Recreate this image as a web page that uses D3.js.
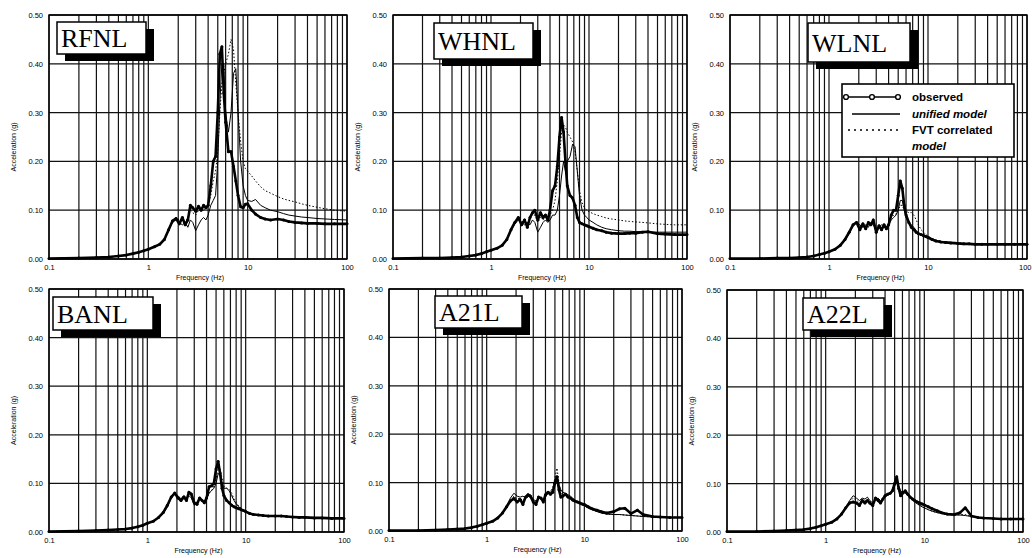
<!DOCTYPE html>
<html>
<head>
<meta charset="utf-8">
<script src="https://cdn.jsdelivr.net/npm/d3@7"></script>
<style>
  html, body { margin: 0; padding: 0; background: #fff; }
  svg { display: block; }
</style>
</head>
<body>
<svg id="chart" width="1032" height="558"></svg>
<script>
// ---------------- DATA ----------------
const freq = [0.1,0.2,0.3,0.4,0.5,0.6,0.7,0.8,0.9,1.0,
  1.15,1.3,1.45,1.6,1.75,1.9,2.05,2.2,2.35,2.5,
  2.65,2.8,3.0,3.2,3.4,3.6,3.8,4.0,4.25,4.5,
  4.75,5.0,5.25,5.5,5.75,6.0,6.4,6.8,7.2,7.6,
  8.0,8.5,9.0,9.5,10,11,12,13.5,15,17,
  20,23,26,30,35,40,50,60,75,100];

const stations = ["RFNL","WHNL","WLNL","BANL","A21L","A22L"];
const seriesNames = ["observed","unified model","FVT correlated","model"];
const xTickValues = [0.1,1,10,100];
const xTickLabels = ["0.1","1","10","100"];
const yTickValues = [0,0.1,0.2,0.3,0.4,0.5];
const yTickLabels = ["0.00","0.10","0.20","0.30","0.40","0.50"];
const xTitle = "Frequency  (Hz)";
const yTitle = "Acceleration  (g)";

const rfnlObserved = [0.001,0.002,0.003,0.004,0.006,0.008,0.011,0.014,0.017,0.020,
 0.025,0.030,0.040,0.060,0.078,0.083,0.072,0.085,0.070,0.080,
 0.110,0.105,0.098,0.108,0.100,0.110,0.105,0.110,0.150,0.200,
 0.210,0.300,0.420,0.435,0.340,0.280,0.220,0.220,0.190,0.160,
 0.130,0.107,0.105,0.112,0.113,0.100,0.092,0.085,0.082,0.080,
 0.082,0.080,0.077,0.075,0.074,0.073,0.073,0.072,0.072,0.072];
const rfnlUnified = [0.001,0.002,0.003,0.004,0.006,0.008,0.011,0.014,0.017,0.020,
 0.025,0.030,0.040,0.058,0.075,0.080,0.075,0.070,0.075,0.065,
 0.080,0.075,0.058,0.070,0.080,0.085,0.080,0.090,0.110,0.120,
 0.130,0.200,0.320,0.400,0.400,0.300,0.260,0.300,0.380,0.390,
 0.300,0.200,0.150,0.130,0.120,0.118,0.122,0.110,0.105,0.100,
 0.097,0.093,0.090,0.088,0.086,0.085,0.083,0.082,0.081,0.080];
const rfnlFvt = [0.001,0.002,0.003,0.004,0.006,0.008,0.011,0.014,0.017,0.020,
 0.025,0.030,0.040,0.060,0.078,0.085,0.080,0.085,0.075,0.085,
 0.100,0.095,0.090,0.100,0.100,0.100,0.105,0.110,0.130,0.160,
 0.180,0.220,0.300,0.360,0.380,0.400,0.420,0.450,0.430,0.360,
 0.300,0.240,0.200,0.185,0.180,0.170,0.160,0.148,0.140,0.135,
 0.128,0.123,0.120,0.117,0.113,0.110,0.106,0.103,0.100,0.098];

const whnlObserved = [0.001,0.002,0.002,0.003,0.004,0.006,0.008,0.011,0.015,0.018,
 0.022,0.028,0.040,0.060,0.075,0.085,0.070,0.080,0.065,0.085,
 0.095,0.100,0.080,0.095,0.085,0.090,0.080,0.100,0.140,0.150,
 0.190,0.250,0.290,0.260,0.200,0.150,0.130,0.125,0.110,0.085,
 0.075,0.072,0.070,0.068,0.066,0.063,0.060,0.058,0.055,0.053,
 0.052,0.052,0.053,0.053,0.055,0.056,0.052,0.051,0.050,0.050];
const whnlUnified = [0.001,0.002,0.002,0.003,0.004,0.006,0.008,0.011,0.015,0.018,
 0.022,0.028,0.040,0.058,0.072,0.080,0.075,0.070,0.075,0.070,
 0.080,0.075,0.055,0.065,0.075,0.080,0.075,0.080,0.090,0.090,
 0.100,0.130,0.170,0.200,0.180,0.200,0.210,0.235,0.230,0.180,
 0.130,0.100,0.090,0.085,0.080,0.075,0.070,0.065,0.062,0.060,
 0.058,0.057,0.057,0.056,0.056,0.055,0.055,0.055,0.055,0.055];
const whnlFvt = [0.001,0.002,0.002,0.003,0.004,0.006,0.008,0.011,0.015,0.018,
 0.022,0.028,0.040,0.060,0.075,0.085,0.075,0.080,0.070,0.085,
 0.090,0.090,0.075,0.085,0.080,0.085,0.080,0.090,0.100,0.120,
 0.160,0.210,0.260,0.275,0.270,0.260,0.250,0.240,0.220,0.180,
 0.140,0.115,0.105,0.100,0.097,0.093,0.090,0.087,0.084,0.082,
 0.080,0.078,0.077,0.076,0.075,0.074,0.072,0.071,0.070,0.070];

const wlnlObserved = [0.001,0.001,0.002,0.002,0.003,0.004,0.006,0.009,0.012,0.015,
 0.020,0.028,0.040,0.055,0.070,0.075,0.060,0.072,0.062,0.075,
 0.070,0.080,0.055,0.068,0.060,0.070,0.062,0.070,0.090,0.100,
 0.100,0.130,0.160,0.145,0.110,0.090,0.075,0.065,0.060,0.055,
 0.052,0.050,0.048,0.046,0.044,0.040,0.037,0.035,0.034,0.033,
 0.032,0.031,0.031,0.030,0.030,0.030,0.030,0.030,0.030,0.030];
const wlnlUnified = [0.001,0.001,0.002,0.002,0.003,0.004,0.006,0.009,0.012,0.015,
 0.020,0.027,0.038,0.052,0.068,0.075,0.070,0.065,0.070,0.065,
 0.075,0.070,0.060,0.065,0.070,0.068,0.065,0.070,0.080,0.085,
 0.090,0.100,0.120,0.120,0.100,0.085,0.075,0.070,0.065,0.058,
 0.052,0.050,0.048,0.046,0.044,0.041,0.038,0.036,0.034,0.033,
 0.032,0.032,0.031,0.031,0.031,0.030,0.030,0.030,0.030,0.030];
const wlnlFvt = [0.001,0.001,0.002,0.002,0.003,0.004,0.006,0.009,0.012,0.015,
 0.020,0.028,0.040,0.055,0.070,0.077,0.068,0.072,0.066,0.074,
 0.072,0.078,0.060,0.068,0.064,0.070,0.066,0.072,0.085,0.090,
 0.092,0.100,0.110,0.110,0.100,0.098,0.095,0.095,0.090,0.080,
 0.070,0.060,0.055,0.050,0.047,0.042,0.039,0.037,0.035,0.034,
 0.033,0.032,0.032,0.031,0.031,0.031,0.030,0.030,0.030,0.030];

const banlObserved = [0.001,0.002,0.003,0.004,0.005,0.006,0.008,0.011,0.014,0.018,
 0.022,0.030,0.040,0.055,0.072,0.080,0.070,0.065,0.072,0.065,
 0.082,0.078,0.060,0.057,0.070,0.065,0.060,0.070,0.093,0.095,
 0.100,0.130,0.145,0.120,0.090,0.075,0.065,0.060,0.055,0.052,
 0.050,0.048,0.046,0.044,0.042,0.038,0.036,0.035,0.034,0.033,
 0.033,0.033,0.032,0.031,0.030,0.030,0.029,0.029,0.028,0.028];
const banlUnified = [0.001,0.002,0.003,0.004,0.005,0.006,0.008,0.011,0.014,0.018,
 0.022,0.029,0.038,0.052,0.070,0.078,0.075,0.068,0.075,0.070,
 0.075,0.070,0.055,0.062,0.068,0.065,0.062,0.068,0.080,0.085,
 0.090,0.100,0.120,0.120,0.100,0.090,0.090,0.085,0.075,0.065,
 0.058,0.052,0.048,0.045,0.042,0.039,0.037,0.035,0.034,0.033,
 0.033,0.032,0.032,0.031,0.030,0.030,0.029,0.029,0.028,0.028];
const banlFvt = [0.001,0.002,0.003,0.004,0.005,0.006,0.008,0.011,0.014,0.018,
 0.022,0.030,0.040,0.055,0.072,0.080,0.072,0.068,0.072,0.068,
 0.078,0.075,0.060,0.060,0.068,0.066,0.062,0.068,0.080,0.085,
 0.095,0.110,0.130,0.130,0.110,0.095,0.090,0.088,0.080,0.068,
 0.060,0.054,0.049,0.046,0.043,0.039,0.037,0.035,0.034,0.033,
 0.033,0.032,0.032,0.031,0.030,0.030,0.029,0.029,0.028,0.028];

const a21lObserved = [0.001,0.001,0.002,0.003,0.004,0.005,0.007,0.010,0.013,0.016,
 0.020,0.027,0.037,0.050,0.062,0.067,0.060,0.065,0.055,0.070,
 0.075,0.072,0.060,0.055,0.070,0.068,0.060,0.075,0.080,0.076,
 0.080,0.100,0.112,0.085,0.070,0.072,0.076,0.070,0.068,0.064,
 0.062,0.060,0.058,0.056,0.055,0.050,0.046,0.043,0.040,0.037,
 0.040,0.046,0.047,0.036,0.043,0.034,0.030,0.029,0.028,0.028];
const a21lUnified = [0.001,0.001,0.002,0.003,0.004,0.005,0.007,0.010,0.013,0.016,
 0.020,0.027,0.037,0.052,0.068,0.078,0.072,0.070,0.072,0.068,
 0.070,0.075,0.065,0.062,0.068,0.066,0.065,0.070,0.078,0.080,
 0.085,0.095,0.100,0.095,0.085,0.080,0.078,0.075,0.072,0.068,
 0.064,0.060,0.057,0.054,0.052,0.047,0.044,0.040,0.037,0.035,
 0.034,0.034,0.033,0.032,0.031,0.030,0.029,0.028,0.028,0.028];
const a21lFvt = [0.001,0.001,0.002,0.003,0.004,0.005,0.007,0.010,0.013,0.016,
 0.020,0.027,0.037,0.050,0.064,0.072,0.066,0.068,0.062,0.070,
 0.072,0.074,0.062,0.060,0.068,0.066,0.062,0.072,0.080,0.082,
 0.090,0.110,0.130,0.100,0.080,0.076,0.075,0.072,0.070,0.066,
 0.063,0.060,0.057,0.054,0.052,0.047,0.044,0.040,0.037,0.035,
 0.034,0.034,0.033,0.032,0.031,0.030,0.029,0.028,0.028,0.028];

const a22lObserved = [0.001,0.001,0.002,0.003,0.004,0.005,0.007,0.010,0.013,0.016,
 0.020,0.027,0.037,0.050,0.060,0.062,0.060,0.055,0.065,0.060,
 0.065,0.060,0.055,0.070,0.065,0.060,0.068,0.075,0.078,0.080,
 0.085,0.100,0.114,0.090,0.075,0.080,0.085,0.078,0.072,0.068,
 0.065,0.062,0.060,0.058,0.056,0.052,0.048,0.044,0.040,0.037,
 0.036,0.040,0.050,0.033,0.030,0.029,0.028,0.027,0.027,0.027];
const a22lUnified = [0.001,0.001,0.002,0.003,0.004,0.005,0.007,0.010,0.013,0.016,
 0.020,0.027,0.037,0.052,0.065,0.075,0.070,0.065,0.070,0.068,
 0.072,0.065,0.060,0.068,0.070,0.065,0.068,0.072,0.076,0.080,
 0.085,0.095,0.105,0.095,0.085,0.082,0.080,0.075,0.070,0.066,
 0.062,0.058,0.055,0.052,0.050,0.046,0.043,0.040,0.038,0.036,
 0.035,0.035,0.034,0.032,0.030,0.029,0.028,0.027,0.027,0.027];
const a22lFvt = [0.001,0.001,0.002,0.003,0.004,0.005,0.007,0.010,0.013,0.016,
 0.020,0.027,0.037,0.050,0.062,0.070,0.066,0.060,0.068,0.064,
 0.068,0.063,0.058,0.068,0.068,0.063,0.068,0.074,0.077,0.080,
 0.088,0.100,0.110,0.095,0.082,0.082,0.082,0.076,0.070,0.066,
 0.062,0.058,0.055,0.052,0.050,0.046,0.043,0.040,0.038,0.036,
 0.035,0.036,0.036,0.032,0.030,0.029,0.028,0.027,0.027,0.027];

const observedSets = [rfnlObserved, whnlObserved, wlnlObserved, banlObserved, a21lObserved, a22lObserved];
const unifiedSets  = [rfnlUnified, whnlUnified, wlnlUnified, banlUnified, a21lUnified, a22lUnified];
const fvtSets      = [rfnlFvt, whnlFvt, wlnlFvt, banlFvt, a21lFvt, a22lFvt];

// ---------------- LAYOUT ----------------
const panels = [
  {left: 49,  top: 15,  w: 298, h: 244, box: {x: 8,  y: 7, w: 89,  h: 32}},
  {left: 393, top: 15,  w: 294, h: 244, box: {x: 41, y: 8, w: 99,  h: 36}},
  {left: 730, top: 15,  w: 297, h: 244, box: {x: 78, y: 8, w: 102, h: 39}},
  {left: 49,  top: 289, w: 295, h: 243, box: {x: 4,  y: 8, w: 100, h: 33}},
  {left: 389, top: 289, w: 293, h: 242, box: {x: 46, y: 7, w: 87,  h: 32}},
  {left: 727, top: 290, w: 296, h: 242, box: {x: 76, y: 8, w: 81,  h: 32}}
];
const svgWidth = 1032;

const svg = d3.select("#chart");
const tickFont = "'Liberation Sans', Arial, sans-serif";

panels.forEach((p, i) => {
  const x = d3.scaleLog().domain([0.1, 100]).range([0, p.w]);
  const y = d3.scaleLinear().domain([0, 0.5]).range([p.h, 0]);
  const g = svg.append("g").attr("transform", `translate(${p.left},${p.top})`);

  // vertical grid (every 1..9 x decade)
  g.append("g").selectAll("line").data(x.ticks()).join("line")
    .attr("x1", d => x(d)).attr("x2", d => x(d))
    .attr("y1", 0).attr("y2", p.h)
    .attr("stroke", "#111").attr("stroke-width", 1.2);
  // horizontal grid
  g.append("g").selectAll("line").data(yTickValues).join("line")
    .attr("x1", 0).attr("x2", p.w)
    .attr("y1", d => y(d)).attr("y2", d => y(d))
    .attr("stroke", "#111").attr("stroke-width", 1.3);
  // frame
  g.append("rect").attr("x", 0).attr("y", 0).attr("width", p.w).attr("height", p.h)
    .attr("fill", "none").attr("stroke", "#000").attr("stroke-width", 1.4);

  // axes
  const yAxis = d3.axisLeft(y).tickValues(yTickValues)
    .tickFormat((d, k) => yTickLabels[k]).tickSize(0).tickPadding(6);
  const ya = g.append("g").call(yAxis);
  ya.select(".domain").remove();
  ya.selectAll("text").attr("font-family", tickFont).attr("font-size", 7.5).attr("fill", "#000");

  const xAxis = d3.axisBottom(x).tickValues(xTickValues)
    .tickFormat((d, k) => xTickLabels[k]).tickSize(0).tickPadding(6);
  const xa = g.append("g").attr("transform", `translate(0,${p.h})`).call(xAxis);
  xa.select(".domain").remove();
  xa.selectAll("text").attr("font-family", tickFont).attr("font-size", 7.5).attr("fill", "#000");
  // keep the last tick label inside the page
  if (p.left + p.w + 7 > svgWidth) {
    xa.selectAll("text").filter(d => d === 100).attr("text-anchor", "end").attr("dx", svgWidth - 1 - (p.left + p.w));
  }

  // axis titles
  g.append("text").attr("x", p.w / 2 + 2).attr("y", p.h + 21)
    .attr("text-anchor", "middle").attr("font-family", tickFont).attr("font-size", 7)
    .text(xTitle);
  g.append("text").attr("transform", `translate(-33,${p.h / 2 + 10}) rotate(-90)`)
    .attr("text-anchor", "middle").attr("font-family", tickFont).attr("font-size", 7)
    .text(yTitle);

  // series
  const rows = freq.map((f, k) => ({f, obs: observedSets[i][k], uni: unifiedSets[i][k], fvt: fvtSets[i][k]}));
  const mk = key => d3.line().x(d => x(d.f)).y(d => y(d[key]));

  g.append("path").datum(rows).attr("d", mk("fvt"))
    .attr("fill", "none").attr("stroke", "#000").attr("stroke-width", 1).attr("stroke-dasharray", "1.5,2");
  g.append("path").datum(rows).attr("d", mk("uni"))
    .attr("fill", "none").attr("stroke", "#000").attr("stroke-width", 1);
  g.append("path").datum(rows).attr("d", mk("obs"))
    .attr("fill", "none").attr("stroke", "#000").attr("stroke-width", 2.6).attr("stroke-linejoin", "round");
  g.append("g").selectAll("circle").data(rows).join("circle")
    .attr("cx", d => x(d.f)).attr("cy", d => y(d.obs)).attr("r", 1.5).attr("fill", "#000");

  // station label box with shadow
  const b = p.box;
  g.append("rect").attr("x", b.x + 8).attr("y", b.y + 7).attr("width", b.w).attr("height", b.h).attr("fill", "#000");
  g.append("rect").attr("x", b.x).attr("y", b.y).attr("width", b.w).attr("height", b.h)
    .attr("fill", "#fff").attr("stroke", "#000").attr("stroke-width", 1.5);
  g.append("text").attr("x", b.x + 4).attr("y", b.y + b.h / 2 + 9)
    .attr("font-family", "'Liberation Serif', 'Times New Roman', serif").attr("font-size", 26)
    .attr("fill", "#000").text(stations[i]);
});

// ---------------- LEGEND (in WLNL panel) ----------------
const lg = svg.append("g");
lg.append("rect").attr("x", 842).attr("y", 84).attr("width", 172).attr("height", 73)
  .attr("fill", "#fff").attr("stroke", "#000").attr("stroke-width", 1.6);
const legFont = "'Liberation Sans', Arial, sans-serif";
const legY = [97, 114, 130, 146];
// observed symbol
lg.append("line").attr("x1", 846).attr("x2", 899).attr("y1", legY[0]).attr("y2", legY[0])
  .attr("stroke", "#000").attr("stroke-width", 1.5);
lg.selectAll("circle.lc").data([846, 872, 898]).join("circle").attr("class", "lc")
  .attr("cx", d => d).attr("cy", legY[0]).attr("r", 2.4)
  .attr("fill", "#fff").attr("stroke", "#000").attr("stroke-width", 1.4);
lg.append("line").attr("x1", 852).attr("x2", 900).attr("y1", legY[1]).attr("y2", legY[1])
  .attr("stroke", "#000").attr("stroke-width", 1.3);
lg.append("line").attr("x1", 848).attr("x2", 900).attr("y1", legY[2]).attr("y2", legY[2])
  .attr("stroke", "#000").attr("stroke-width", 1.3).attr("stroke-dasharray", "2,4");
seriesNames.forEach((t, k) => {
  lg.append("text").attr("x", 912).attr("y", legY[k] + 4)
    .attr("font-family", legFont).attr("font-weight", "bold")
    .attr("font-style", k === 1 || k === 3 ? "italic" : "normal")
    .attr("font-size", 11.5).attr("fill", "#000").text(t);
});
</script>
</body>
</html>
